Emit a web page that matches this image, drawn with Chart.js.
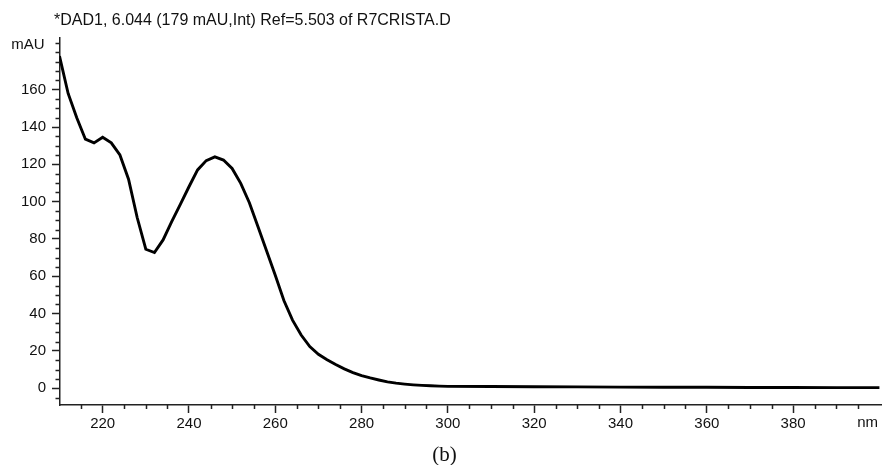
<!DOCTYPE html>
<html>
<head>
<meta charset="utf-8">
<script src="https://cdn.jsdelivr.net/npm/chart.js@4/dist/chart.umd.min.js"></script>
<style>
    html, body { margin: 0; padding: 0; background: #fff; }
    #wrap { width: 882px; height: 465px; position: relative; }
</style>
</head>
<body>
<div id="wrap"><canvas id="spectrum"></canvas></div>
<script>
// spectrum (nm, mAU)
const wavelengths = [210, 212, 214, 216, 218, 220, 222, 224, 226, 228, 230, 232, 234, 236, 238,
    240, 242, 244, 246, 248, 250, 252, 254, 256, 258, 260, 262, 264, 266, 268, 270, 272, 274,
    276, 278, 280, 282, 284, 286, 288, 290, 292, 294, 296, 298, 300, 310, 320, 330, 340, 350,
    360, 370, 380, 390, 400];
const absorbance = [178, 158, 145, 133.5, 131.5, 134.5, 131.5, 125, 112, 91.5, 74.5, 72.7, 79.5, 89.3, 98.6,
    108, 117, 122, 124, 122.3, 117.8, 109.8, 99.4, 86.5, 73.5, 60.5, 47, 36.5, 28.5, 22.3, 18.2, 15.3, 12.7,
    10.4, 8.4, 6.8, 5.5, 4.4, 3.4, 2.7, 2.2, 1.8, 1.5, 1.3, 1.1, 1.0, 0.9, 0.8, 0.7, 0.6, 0.5,
    0.5, 0.4, 0.4, 0.3, 0.3];

const xTicks = [220, 240, 260, 280, 300, 320, 340, 360, 380];
const yTicks = [0, 20, 40, 60, 80, 100, 120, 140, 160];
const titleText = '*DAD1, 6.044 (179 mAU,Int) Ref=5.503 of R7CRISTA.D';
const captionText = '(b)';

const axisColor = '#222';
const sans = '"Liberation Sans", Arial, sans-serif';

// minor ticks, unit labels, title and caption
const extras = {
    id: 'extras',
    afterDraw(chart) {
        const { ctx, scales: { x, y } } = chart;
        ctx.save();
        ctx.strokeStyle = axisColor;
        ctx.lineWidth = 1.5;
        ctx.beginPath();
        for (let v = 215; v <= 395; v += 5) {
            if (xTicks.includes(v)) continue;
            const px = Math.round(x.getPixelForValue(v)) + 0.5;
            ctx.moveTo(px, y.bottom);
            ctx.lineTo(px, y.bottom + 4);
        }
        for (let v = -5; v <= 185; v += 5) {
            if (yTicks.includes(v)) continue;
            const py = Math.round(y.getPixelForValue(v)) + 0.5;
            ctx.moveTo(x.left, py);
            ctx.lineTo(x.left - 4, py);
        }
        ctx.stroke();

        ctx.fillStyle = '#111';
        ctx.font = '15px ' + sans;
        ctx.textBaseline = 'middle';
        ctx.textAlign = 'right';
        ctx.fillText('mAU', x.left - 15, y.getPixelForValue(185) + 1.5);
        ctx.fillText('nm', x.right - 4, y.bottom + 18);

        ctx.textAlign = 'left';
        ctx.font = '16px ' + sans;
        ctx.fillText(titleText, 54, 21);

        ctx.textAlign = 'center';
        ctx.font = '21px "Liberation Serif", "Times New Roman", serif';
        ctx.fillText(captionText, 444.5, 455);
        ctx.restore();
    }
};

new Chart(document.getElementById('spectrum'), {
    type: 'line',
    data: {
        datasets: [{
            data: wavelengths.map((w, i) => ({ x: w, y: absorbance[i] })),
            borderColor: '#000',
            borderWidth: 2.9,
            pointRadius: 0,
            tension: 0,
            fill: false
        }]
    },
    options: {
        responsive: true,
        maintainAspectRatio: false,
        animation: false,
        layout: { padding: { top: 37.5, right: 0, left: 0, bottom: 0 } },
        plugins: {
            legend: { display: false },
            tooltip: { enabled: false }
        },
        scales: {
            x: {
                type: 'linear',
                min: 210,
                max: 400.6,
                afterBuildTicks: scale => { scale.ticks = xTicks.map(v => ({ value: v })); },
                afterFit: scale => { scale.height = 60; },
                grid: {
                    drawOnChartArea: false,
                    drawTicks: true,
                    tickLength: 8,
                    tickColor: axisColor,
                    tickWidth: 1.5
                },
                border: { display: true, color: axisColor, width: 1.5 },
                ticks: {
                    color: '#111',
                    font: { family: sans, size: 15 },
                    padding: 2,
                    maxRotation: 0,
                    autoSkip: false
                }
            },
            y: {
                min: -9,
                max: 188,
                afterBuildTicks: scale => { scale.ticks = yTicks.map(v => ({ value: v })); },
                afterFit: scale => { scale.width = 59.5; },
                grid: {
                    drawOnChartArea: false,
                    drawTicks: true,
                    tickLength: 7.5,
                    tickColor: axisColor,
                    tickWidth: 1.5
                },
                border: { display: true, color: axisColor, width: 1.5 },
                ticks: {
                    color: '#111',
                    font: { family: sans, size: 15 },
                    padding: 6
                }
            }
        }
    },
    plugins: [extras]
});
</script>
</body>
</html>
